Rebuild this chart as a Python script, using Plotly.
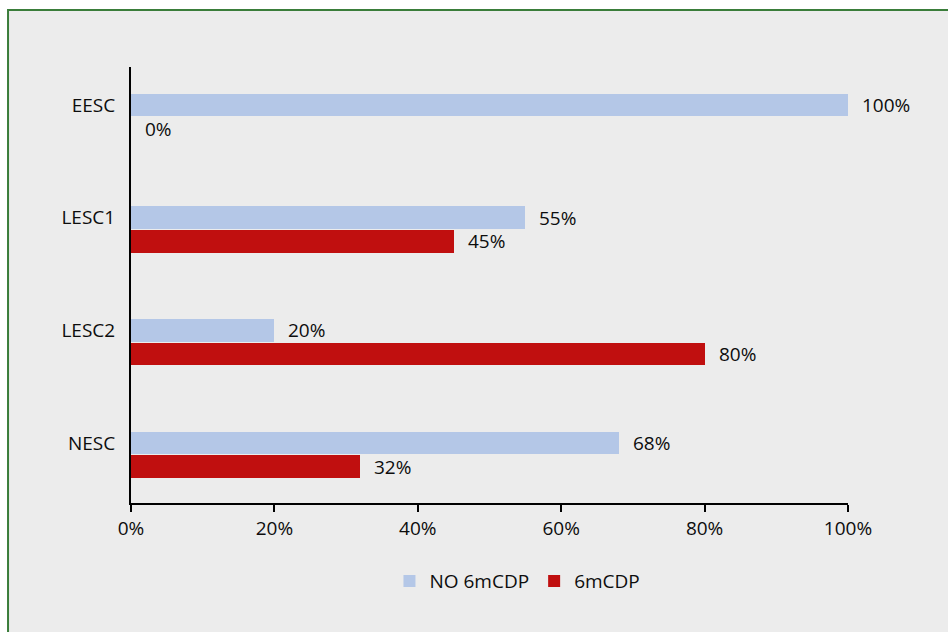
import plotly.graph_objects as go

# Share of patients per group, with and without 6mCDP
categories = ["EESC", "LESC1", "LESC2", "NESC"]
no_6mcdp = [1.00, 0.55, 0.20, 0.68]
with_6mcdp = [0.00, 0.45, 0.80, 0.32]
x_ticks = [0, 0.2, 0.4, 0.6, 0.8, 1.0]
x_tick_labels = ["0%", "20%", "40%", "60%", "80%", "100%"]

BLUE = "#b4c7e7"
RED = "#c00f0f"
FONT = dict(family="Open Sans, Liberation Sans, sans-serif", size=19, color="#0d0d0d")

pos = list(range(len(categories)))
BAR_W = 0.2
BLUE_OFF = -0.1
RED_OFF = 0.11

fig = go.Figure()
fig.add_trace(go.Bar(
    y=pos, x=no_6mcdp, orientation="h", name="NO 6mCDP",
    marker=dict(color=BLUE, line=dict(width=0)),
    width=BAR_W, offset=BLUE_OFF, hoverinfo="x+name",
))
fig.add_trace(go.Bar(
    y=pos, x=with_6mcdp, orientation="h", name="6mCDP",
    marker=dict(color=RED, line=dict(width=0)),
    width=BAR_W, offset=RED_OFF, hoverinfo="x+name",
))

# value labels at the end of each bar
annotations = []
for i, (b, r) in enumerate(zip(no_6mcdp, with_6mcdp)):
    annotations.append(dict(
        x=b, y=i + BLUE_OFF + BAR_W / 2, xref="x", yref="y",
        text=f"{round(b * 100)}%", showarrow=False,
        xanchor="left", yanchor="middle", xshift=12, font=FONT,
    ))
    annotations.append(dict(
        x=r, y=i + RED_OFF + BAR_W / 2, xref="x", yref="y",
        text=f"{round(r * 100)}%", showarrow=False,
        xanchor="left", yanchor="middle", xshift=12, font=FONT,
    ))

fig.update_layout(
    width=948, height=632,
    margin=dict(l=131, r=100, t=67, b=129),
    paper_bgcolor="white",
    plot_bgcolor="rgba(0,0,0,0)",
    font=FONT,
    bargap=0,
    showlegend=True,
    legend=dict(
        orientation="h", x=0.539, y=-0.179, xanchor="center", yanchor="middle",
        font=FONT, bgcolor="rgba(0,0,0,0)", traceorder="normal",
    ),
    annotations=annotations,
    shapes=[dict(
        type="rect", xref="paper", yref="paper",
        x0=-0.1715, x1=1.25, y0=-0.45, y1=1.131,
        fillcolor="#ececec", line=dict(color="#3a7d3a", width=2), layer="below",
    )],
    xaxis=dict(
        range=[0, 1], tickvals=x_ticks, ticktext=x_tick_labels,
        showgrid=False, zeroline=False, showline=True, linecolor="black", linewidth=2,
        ticks="outside", ticklen=7, tickwidth=1.5, tickcolor="black",
        tickfont=FONT, fixedrange=True,
    ),
    yaxis=dict(
        range=[3.533, -0.337], tickvals=pos, ticktext=categories,
        showgrid=False, zeroline=False, showline=True, linecolor="black", linewidth=2,
        ticks="", ticklabelstandoff=10, tickfont=FONT, fixedrange=True,
    ),
)

fig.write_html("out.html")
